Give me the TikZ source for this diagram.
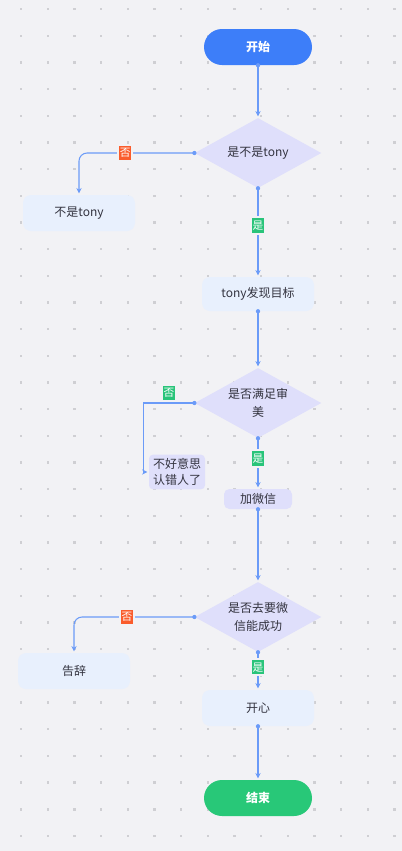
\documentclass[tikz,border=0pt]{standalone}
\usepackage{fontspec}
\newfontfamily\cjk{Noto Sans CJK SC}
\usetikzlibrary{arrows.meta,positioning,shapes.geometric}

\definecolor{bgcol}{HTML}{F2F2F5}
\definecolor{gridcol}{HTML}{CFCFD3}
\definecolor{startblue}{HTML}{3D7EF9}
\definecolor{endgreen}{HTML}{28C878}
\definecolor{lavender}{HTML}{DFDFFB}
\definecolor{paleblue}{HTML}{E8F0FD}
\definecolor{lineblue}{HTML}{6B9BF8}
\definecolor{noorange}{HTML}{FA5C2C}
\definecolor{yesgreen}{HTML}{29C47A}
\definecolor{textcol}{HTML}{33333F}

\begin{document}
\begin{tikzpicture}[
    x=0.75pt, y=-0.75pt,
    terminal/.style={rectangle, rounded corners=13.5pt, minimum width=81pt, minimum height=27pt, text=white, font=\cjk\bfseries\fontsize{9}{11}\selectfont},
    decision/.style={diamond, aspect=1.8, fill=lavender, minimum width=95pt, minimum height=52.5pt, inner sep=0pt, align=center, text=textcol, font=\cjk\fontsize{9}{13}\selectfont},
    action/.style={rectangle, rounded corners=6pt, fill=paleblue, minimum width=84pt, minimum height=27pt, inner sep=2pt, align=center, text=textcol, font=\cjk\fontsize{9}{13}\selectfont},
    tag/.style={rectangle, sharp corners, draw=bgcol, line width=1.5pt, inner xsep=1.3pt, inner ysep=2.6pt, text=white, font=\cjk\fontsize{8}{9}\selectfont},
    dot/.style={circle, sharp corners, fill=lineblue, inner sep=0pt, minimum size=3.2pt},
    flow/.style={draw=lineblue, line width=0.8pt, -{Stealth[length=4pt,width=4pt]}, shorten >=1pt},
    >=Stealth
]
\useasboundingbox[fill=bgcol] (0,0) rectangle (402,851);
\foreach \i in {0,...,14}
  \foreach \j in {0,...,31}
    \fill[gridcol] ({20+26.67*\i},{8+26.67*\j}) rectangle ++(2.4,2.4);

\node[terminal, fill=startblue] (s) at (258,47) {开始};
\node[decision] (d1) at (258,153) {是不是tony};
\node[action] (nt) at (79,213) {不是tony};
\node[action, minimum height=25.5pt] (tf) at (258,294) {tony发现目标};
\node[decision] (d2) at (258,403) {是否满足审\\美};
\node[action, fill=lavender, rounded corners=3pt, minimum width=42pt, minimum height=26pt, inner sep=1pt, font=\cjk\fontsize{9}{12.5}\selectfont] (sorry) at (177,472) {不好意思\\认错人了};
\node[action, fill=lavender, rounded corners=4pt, minimum width=51pt, minimum height=15pt, inner sep=1pt] (wx) at (258,499) {加微信};
\node[decision] (d3) at (258,617) {是否去要微\\信能成功};
\node[action] (bye) at (74,671) {告辞};
\node[action] (happy) at (258,708) {开心};
\node[terminal, fill=endgreen] (e) at (258,798) {结束};

\draw[flow] (s) -- node[dot, pos=0] {} (d1);
\draw[flow, rounded corners=6pt] (d1.west) -| node[dot, pos=0] {} node[tag, fill=noorange, pos=0.3] {否} (nt.north);
\draw[flow] (d1) -- node[dot, pos=0] {} node[tag, fill=yesgreen, pos=0.42] {是} (tf);
\draw[flow] (tf) -- node[dot, pos=0] {} (d2);
\draw[flow] (d2.west) -- node[dot, pos=0] {} node[tag, fill=yesgreen, draw=none, inner xsep=0.6pt, inner ysep=1.9pt, above=1.5pt] {否} ++(-51,0) |- (sorry.west);
\draw[flow] (d2) -- node[dot, pos=0] {} node[tag, fill=yesgreen, pos=0.4] {是} (wx);
\draw[flow] (wx) -- node[dot, pos=0] {} (d3);
\draw[flow, rounded corners=6pt] (d3.west) -| node[dot, pos=0] {} node[tag, fill=noorange, pos=0.28] {否} (bye.north);
\draw[flow] (d3) -- node[dot, pos=0] {} node[tag, fill=yesgreen, pos=0.4] {是} (happy);
\draw[flow] (happy) -- node[dot, pos=0] {} (e);
\end{tikzpicture}
\end{document}
